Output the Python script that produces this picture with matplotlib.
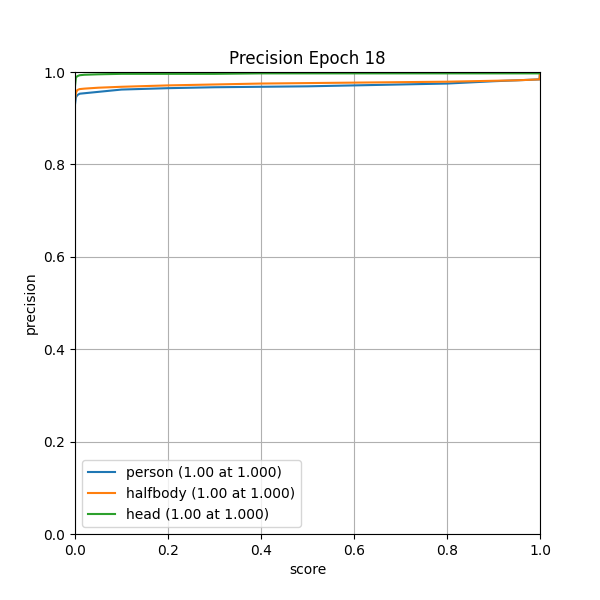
import numpy as np
import matplotlib
matplotlib.use('Agg')
import matplotlib.pyplot as plt

# score thresholds and precision per class
score = [0.0, 0.002, 0.005, 0.01, 0.02, 0.05, 0.1, 0.2, 0.3, 0.4, 0.5, 0.6, 0.7, 0.8, 0.9, 0.95, 0.999, 1.0]
person = [0.930, 0.945, 0.950, 0.953, 0.954, 0.957, 0.962, 0.965, 0.967, 0.968, 0.969, 0.971, 0.973, 0.975, 0.980, 0.982, 0.984, 1.0]
halfbody = [0.940, 0.955, 0.961, 0.963, 0.964, 0.966, 0.968, 0.971, 0.973, 0.975, 0.976, 0.977, 0.978, 0.979, 0.981, 0.982, 0.984, 1.0]
head = [0.970, 0.988, 0.991, 0.993, 0.994, 0.995, 0.996, 0.996, 0.996, 0.997, 0.997, 0.997, 0.997, 0.997, 0.997, 0.997, 0.997, 1.0]

labels = ['person', 'halfbody', 'head']
best_prec = [1.00, 1.00, 1.00]
best_score = [1.000, 1.000, 1.000]

fig = plt.figure(figsize=(6, 6), dpi=100)
ax = fig.add_subplot(111)
for name, prec, bp, bs in zip(labels, [person, halfbody, head], best_prec, best_score):
    ax.plot(score, prec, label=f'{name} ({bp:.2f} at {bs:.3f})')

ax.set_xlim(0, 1)
ax.set_ylim(0, 1)
ax.set_xlabel('score')
ax.set_ylabel('precision')
ax.set_title('Precision Epoch 18')
ax.grid(True)
ax.legend(loc='lower left')
fig.savefig('out.png')
